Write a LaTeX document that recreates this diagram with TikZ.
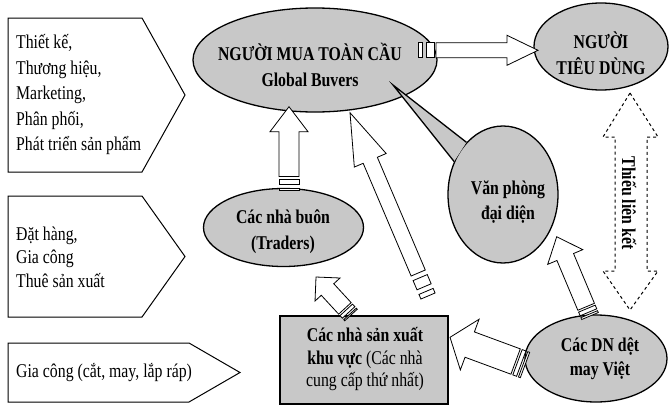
\documentclass[tikz,border=0pt]{standalone}
\usepackage{fontspec}
\setmainfont[FakeStretch=0.81]{Liberation Serif}
\usetikzlibrary{calc,shapes.geometric}
\definecolor{fillgray}{RGB}{200,200,200}
\newcommand\blockarrow[9]{%
  \path let \p1=($(#2)-(#1)$), \n1={atan2(\y1,\x1)}, \n2={veclen(\x1,\y1)} in \pgfextra{\xdef\bAng{\n1}\xdef\bLen{\n2}};
  \pgfmathsetmacro\bL{\bLen}
  \pgfmathsetmacro\bH{\bL-#5}
  \begin{scope}[shift={(#1)}, rotate=\bAng]
    \draw[abox] (0pt,-#3pt) -- (#6pt,-#3pt) -- (#6pt,#3pt) -- (0pt,#3pt) -- cycle;
    \draw[abox] (#7pt,-#3pt) -- (#8pt,-#3pt) -- (#8pt,#3pt) -- (#7pt,#3pt) -- cycle;
    \draw[abox] (#9pt,-#3pt) -- (\bH pt,-#3pt) -- (\bH pt,-#4pt) -- (\bL pt,0pt) -- (\bH pt,#4pt) -- (\bH pt,#3pt) -- (#9pt,#3pt) -- cycle;
  \end{scope}}
\begin{document}
\begin{tikzpicture}[x=1pt,y=-1pt,line join=miter,
  abox/.style={draw=black,fill=white,line width=0.8pt},
  pent/.style={draw=black,fill=white,line width=1pt},
  oval/.style={ellipse,draw=black,fill=fillgray,line width=1.3pt,inner sep=0pt},
  reg/.style={font=\fontsize{19.5}{24}\selectfont,inner sep=0pt,align=left,anchor=west},
  bld/.style={font=\fontsize{19.5}{26}\selectfont\bfseries,inner sep=0pt,align=center}]
\useasboundingbox (0,0) rectangle (669,415);
% left pentagons
\draw[pent] (8,18) -- (142,18) -- (185,95) -- (142,172) -- (8,172) -- cycle;
\draw[pent] (8,196) -- (142,196) -- (185,256.5) -- (142,317) -- (8,317) -- cycle;
\draw[pent] (8,343) -- (189,343) -- (240,372.5) -- (189,402) -- (8,402) -- cycle;
\node[reg,font=\fontsize{19.5}{25.5}\selectfont] (t1) at (16,95) {Thiết kế,\\Thương hiệu,\\Marketing,\\Phân phối,\\Phát triển sản phẩm};
\node[reg,font=\fontsize{19.5}{23.5}\selectfont] (t2) at (16,257) {Đặt hàng,\\Gia công\\Thuê sản xuất};
\node[reg] (t3) at (16,372.5) {Gia công (cắt, may, lắp ráp)};
% ovals
\node[oval,minimum width=244pt,minimum height=104pt] (gb) at (315,60) {};
\node[bld] (gbt) at (310,65) {NGƯỜI MUA TOÀN CẦU\\Global Buvers};
\node[oval,minimum width=134pt,minimum height=87pt] (nt) at (601,46.5) {};
\node[bld] (ntt) at (601,53) {NGƯỜI\\TIÊU DÙNG};
\node[oval,minimum width=160pt,minimum height=78pt] (tr) at (283.5,227.5) {};
\node[bld] (trt) at (283,231.5) {Các nhà buôn\\(Traders)};
\node[oval,minimum width=142pt,minimum height=87pt] (dn) at (596,358.5) {};
\node[bld,font=\fontsize{19.5}{23.5}\selectfont\bfseries] (dnt) at (600,358.5) {Các DN dệt\\may Việt};
% producers
\node[draw=black,fill=fillgray,line width=1.3pt,minimum width=168pt,minimum height=88pt,inner sep=0pt] (pr) at (364,360) {};
\node[inner sep=0pt,align=center,font=\fontsize{19.5}{22.5}\selectfont] (prt) at (365,359.5) {\textbf{Các nhà sản xuất}\\\textbf{khu vực} (Các nhà\\cung cấp thứ nhất)};
% callout
\node[oval,minimum width=110pt,minimum height=137pt] (vp) at (503,194.5) {};
\coordinate (vtip) at (393,85);
\fill[fillgray] (vtip) -- (vp.125) -- (vp.146) -- cycle;
\draw[line width=1.3pt] (vp.125) -- (vtip) -- (vp.146);
\node[bld,font=\fontsize{19.5}{25}\selectfont\bfseries] (vpt) at (508,202) {Văn phòng\\đại diện};
% dashed double arrow
\coordinate (dtop) at (630,93);
\coordinate (dbot) at (630,310);
\draw[line width=1pt,dash pattern=on 3pt off 3pt] (dtop) -- (658,137) -- (647,137) -- (647,271) -- (658,271) -- (dbot) -- (603,271) -- (615,271) -- (615,137) -- (603,137) -- cycle;
\node[bld,rotate=-90] (lk) at (629,203) {Thiếu liên kết};
% block arrows
\coordinate (a1s) at (418,50.3); \coordinate (a1e) at (538,50.3);
\blockarrow{a1s}{a1e}{7.5}{15}{31}{4.3}{8.4}{16.7}{18}
\coordinate (a2s) at (289,190); \coordinate (a2e) at (289,106.7);
\blockarrow{a2s}{a2e}{10}{19}{25}{2}{6}{11}{13.5}
\coordinate (a3s) at (428,296); \coordinate (a3e) at (350,112.7);
\blockarrow{a3s}{a3e}{7.7}{17.3}{51.7}{5}{10}{20}{25}
\coordinate (a4s) at (351,315); \coordinate (a4e) at (316,277);
\blockarrow{a4s}{a4e}{8.5}{17}{17}{1.5}{3.5}{7}{9}
\coordinate (a5s) at (525,365); \coordinate (a5e) at (450,337.3);
\blockarrow{a5s}{a5e}{13.5}{27}{21}{2}{4}{8}{10}
\coordinate (a6s) at (590,316); \coordinate (a6e) at (556.7,236.7);
\blockarrow{a6s}{a6e}{9}{19}{22}{2}{4}{8}{10}
\end{tikzpicture}
\end{document}
